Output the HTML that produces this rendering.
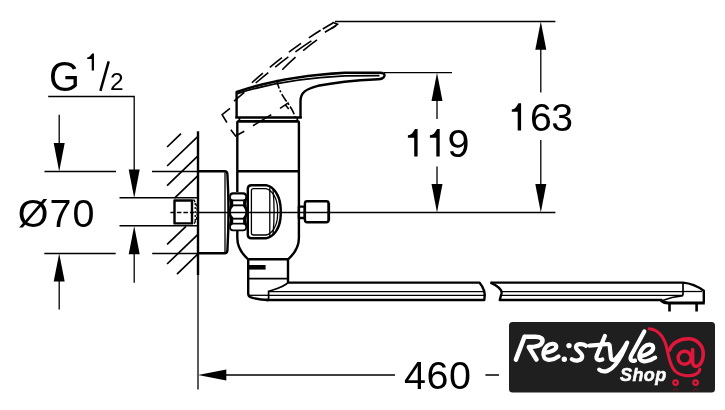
<!DOCTYPE html>
<html>
<head>
<meta charset="utf-8">
<title>Dimension drawing</title>
<style>
html,body{margin:0;padding:0;background:#fff;}
body{width:725px;height:410px;overflow:hidden;position:relative;font-family:"Liberation Sans",sans-serif;}
svg{position:absolute;left:0;top:0;display:block;will-change:transform;}
text{font-family:"Liberation Sans",sans-serif;fill:#000;}
.t{stroke:#000;stroke-width:1.3;fill:none;}
.m{stroke:#000;stroke-width:1.7;fill:none;}
.k{stroke:#000;stroke-width:2.4;fill:none;stroke-linejoin:round;stroke-linecap:butt;}
.kw{stroke:#000;stroke-width:2.4;fill:#fff;stroke-linejoin:round;}
.d{stroke:#000;stroke-width:1.6;fill:none;}
.a{fill:#000;stroke:none;}
</style>
</head>
<body>
<svg width="725" height="410" viewBox="0 0 725 410">
<rect x="0" y="0" width="725" height="410" fill="#fff"/>

<!-- ===== dimension text ===== -->
<g id="dimtext">
<text transform="translate(48.9,90.8) scale(0.92,1)" font-size="43.2">G</text>
<path class="a" d="M94.00,53.60V70.50H91.70V58.92H87.20V57.45C90.06,57.15 90.50,55.46 92.21,53.60Z"/>
<line x1="100.4" y1="90.8" x2="108.7" y2="61.4" stroke="#000" stroke-width="2.5"/>
<text x="110" y="90" font-size="24.5">2</text>
<text x="17.8" y="226.5" font-size="39.5" letter-spacing="1">Ø70</text>
<path class="a" d="M417.60,129.00V156.50H414.20V137.66H407.90V135.27C411.97,134.97 413.00,132.03 414.95,129.00Z"/>
<path class="a" d="M439.70,129.00V156.50H436.30V137.66H429.90V135.27C434.02,134.97 435.10,132.03 437.05,129.00Z"/>
<text x="447.6" y="156.5" font-size="39.5">9</text>
<path class="a" d="M521.10,103.20V130.50H517.70V111.80H511.80V109.42C515.71,109.12 516.50,106.20 518.45,103.20Z"/>
<text x="530" y="131" font-size="39.2" letter-spacing="-0.6">63</text>
<text x="404" y="389" font-size="39.5" letter-spacing="0.5">460</text>
</g>

<!-- ===== thin dimension lines ===== -->
<g id="dims" class="t">
<path d="M48.200,96.500H134.200V171"/>
<path d="M59.2,114.7V144"/>
<path d="M44.5,171.5H116M152,171.5H198"/>
<path d="M119.500,197.700H197M119.500,225.800H197" stroke-width="1.4"/>
<path d="M44.3,253.5H115.7M152.2,253.5H198"/>
<path d="M134.2,253V282.8"/>
<path d="M59.2,280V309.6"/>
<path d="M335,21.5H555.4"/>
<path d="M384,72.7H452"/>
<path d="M437,100V119M437,166.5V185"/>
<path d="M540.8,49V92.5M540.8,140V185"/>
<path d="M198,274V389.500"/>
<path d="M225,375H395M485.4,375H499"/>
</g>
<g id="arrows" class="a">
<path d="M134.200,198L128.700,169.500H139.700Z"/>
<path d="M59.2,171.5L53.7,143H64.7Z"/>
<path d="M134.2,226L128.7,254.3H139.7Z"/>
<path d="M59.2,253.5L53.7,281.5H64.7Z"/>
<path d="M437,72.7L431.5,101H442.5Z"/>
<path d="M437,212.5L431.5,184H442.5Z"/>
<path d="M540.8,21.5L535.3,49.8H546.3Z"/>
<path d="M540.8,212.5L535.3,184H546.3Z"/>
<path d="M198,375L226.300,369.500V380.500Z"/>
</g>

<!-- ===== wall + hatching ===== -->
<g id="wall">
<g class="m">
<path d="M167.1,147L181,133.6"/>
<path d="M167.1,166L197.7,136.6"/>
<path d="M167.1,185.6L197.7,156.2"/>
<path d="M174.5,198.2L197.7,175.8"/>
<path d="M167.1,244.4L186,226.3"/>
<path d="M167.1,264L197.7,234.6"/>
<path d="M177,274.2L197.7,254.2"/>
</g>
<path d="M198,131.300V275" class="k"/>
</g>


<!-- ===== faucet ===== -->
<g id="faucet">
<!-- thread stub in wall -->
<path d="M193.500,199.500Q197.4,205 197.200,212Q197.4,219 193.500,224.500" class="t" stroke-dasharray="3 1.500" stroke-width="1.700"/>
<path d="M195.200,203V221" class="t" stroke-dasharray="2 2" stroke-width="1.2"/>
<rect x="174.5" y="200.5" width="17.5" height="22.9" class="kw" stroke-width="3" stroke-linejoin="miter"/>
<!-- rosette -->
<path d="M197.7,171.3H224.6Q227.2,171.3 227.4,174Q229.6,212 227.4,250.4Q227.2,253.2 224.6,253.2H197.7" class="k" stroke-width="2"/>
<path d="M225,172.5V252" class="t"/>
<!-- body -->
<path d="M237.300,192V122.800Q237.300,121.300 238.800,121.300H297.400Q298.900,121.300 298.900,122.800V238C298.900,246 295.300,253 288,259.300" class="k"/>
<path d="M237.300,230.500V238C237.300,246 241,253 248.200,259.300" class="k"/>
<path d="M237.300,171.300H298.900" class="k" stroke-width="2"/>
<path d="M238.500,121.400H297.700" class="k" stroke-width="2.700"/>
<path d="M239.400,118V121.400M297.300,118V121.400" class="m" stroke-width="1.800"/>
<!-- nut -->
<path d="M233,192.200H243.200Q247,192.200 247,196V199.500Q246.300,202.500 246.300,204.500Q247.300,208 247.300,212Q247.300,216 246.300,219.500Q246.300,221 247,224V227.500Q247,231.200 243.200,231.200H233Q229.200,231.200 229.200,227.500V224Q229.900,221 229.900,219.500Q228.900,216 228.900,212Q228.900,208 229.900,204.500Q229.900,202.500 229.200,199.500V196Q229.200,192.200 233,192.200Z" fill="#000"/>
<g fill="#fff" stroke="none">
<rect x="230.900" y="194.400" width="14.400" height="5" rx="2.500"/>
<rect x="233.200" y="201.200" width="9.900" height="3.200"/>
<path d="M233.400,206.200H242.900Q245.500,209 245.500,212Q245.500,215 242.900,217.800H233.400Q230.700,215 230.700,212Q230.700,209 233.400,206.200Z"/>
<rect x="233.200" y="219.600" width="9.900" height="3.200"/>
<rect x="230.900" y="224.500" width="14.400" height="5" rx="2.500"/>
</g>
<!-- cartridge -->
<path d="M251.500,185.200H266C274.500,187 279.300,196 280.400,205Q281.200,212 280.400,219C279.300,228 274.500,236.500 266,238.300H251.500Q247.800,238.300 247.800,234.800V188.700Q247.800,185.200 251.500,185.200Z" class="kw" stroke-width="2.500"/>
<path d="M253.500,188.600H266C272.500,190.500 276.500,198 277.300,205Q277.900,212 277.300,219C276.500,226 272.500,233.500 266,235H253.500Q251.400,235 251.400,233V190.600Q251.400,188.600 253.500,188.600Z" class="t" stroke-width="1"/>
<path d="M269.800,187.500V236" class="t"/>
<path d="M273,189.500Q275.200,212 273,234.500" class="t" stroke-width="1"/>
<!-- right connector -->
<rect x="298.9" y="206.6" width="5.8" height="11.4" class="kw" stroke-width="1.8"/>
<rect x="304.900" y="201.300" width="23.700" height="21" rx="2.200" class="kw" stroke-width="2.500"/><path d="M328.900,203V220.500" class="k" stroke-width="3"/>
<!-- lower body -->
<path d="M248.2,259.3H288" class="k" stroke-width="2.4"/>
<path d="M288,259.3V282.4" class="k"/>
<path d="M248.2,259.3V293.5Q248.2,296.5 251,297.3Q259,299.8 268.5,300" class="k"/>
<path d="M248.2,267.3H265.6" stroke="#000" stroke-width="4.6" fill="none"/>
<path d="M248.2,278.6H288" class="m"/>
<path d="M248.2,295.3H268.5" class="t"/>
<!-- spout -->
<path d="M287,282.6H479.4Q486.500,291 484.3,300H266" class="k"/>
<path d="M288,282.6C284,287 276,289 268.6,291.3V300" class="m"/>
<path d="M268.6,291.7H485M268.6,295.4H485.2" class="t" stroke-width="1.1"/>
<path d="M490.5,282.6H683" class="k"/>
<path d="M490.5,282.6Q502.500,288 501.5,293.500Q500.500,297 499.8,300H662" class="k" stroke-width="2"/>
<path d="M501.5,291.7H683M501,295.4H683" class="t" stroke-width="1.1"/>
<!-- spout end -->
<path d="M683,282.6Q694,283.5 703.8,290.8V302.5" class="k"/>
<path d="M683,282.6V295.6" class="m"/>
<path d="M683,291.5H702" class="t"/>
<path d="M683,295.6L672,297.500L662.5,300.5" class="m"/>
<path d="M661,300.5Q664,303 668,303H704.8" stroke="#000" stroke-width="3" fill="none"/>
<path d="M669.5,303V311.6M696.6,303V311.6" stroke="#000" stroke-width="2.6" fill="none"/>
<!-- handle -->
<path d="M236.6,118V92L238.4,91.400C262,83.300 300,75.300 345,72.700H380Q385.300,72.800 384.300,76.200Q383.200,79 378,79.200C356,80.300 335,82.300 318,85.800C306,88.800 300.500,92.500 300.500,101V118" class="k" stroke-width="2.7" stroke-linejoin="miter"/>
<path d="M237.500,93.600C262,85.600 300,78 345,75.900L379.500,75.600" class="m" stroke-width="1.400"/>
<path d="M235.400,117.500H301.800" class="k" stroke-width="3"/>
<!-- dashed tilted handle -->
<g class="d">
<path d="M333,23C316,32.5 290,49 251,83.5" stroke-dasharray="12 2.5 14 9.5 15 9 15.5 9 14.5 9"/>
<path d="M336,25.8C320,35 296,49 255.7,83" stroke-dasharray="13 16 19.3 8.9 16.6 8.700 16.6 9"/>
<path d="M317,39.9C305,48.5 293,59 282,70" stroke-dasharray="17.6 10 18.2 100"/>
<path d="M332.500,22.200L337.500,24.300L331.500,28.500"/>
<path d="M244.3,92.400L234,101.100"/>
<path d="M230,108.300L222.100,114.600L226.900,122.500"/>
<path d="M230.800,129.700L235.600,136L244.300,131.300"/>
<path d="M253,125.700L271.300,114.600M280,108.300L288.700,102.700M285.500,105.100L288.700,109"/>
<path d="M276.800,79.800C278,88 282,95 285.500,100C290,106 293.500,111 295.200,117.500" stroke-dasharray="9 2 2 2"/>
</g>
</g>

<g id="centerline" class="t"><path d="M198,212.500H555.400" stroke-width="1.500"/><path d="M170.400,212.500H197" stroke-dasharray="4.500 2"/></g>

<!-- ===== logo ===== -->
<g id="logo">
<rect x="509" y="322" width="206" height="70.4" rx="3.5" ry="3.5" fill="#1f1f1f"/>
<g id="restyle" fill="none" stroke="#fff" stroke-width="4.2" stroke-linecap="round" stroke-linejoin="round">
<path d="M524.5,336.8L515.9,359.6M524.5,336.8H535.5C541,336.8 543.4,339 542.2,342.2C541,345.6 535,347 528.8,347L536.5,359.5" stroke-width="4.5"/>
<path d="M546,352.6C551,352 557,349.5 556.2,346C555.5,343 550,343 547,346C543.5,349.5 542.3,354.5 544.3,357.6C546.8,361.2 553.5,360.2 558.6,356.4"/>
<path d="M569,345.600h0.01M564.300,359.200h0.01" stroke-width="5.4"/>
<path d="M586,345.8C583,343.6 577,343.4 576,346.6C575,350 582.6,352.6 582.2,356.8C581.8,361 575.5,361.4 571.8,359.2"/>
<path d="M604.9,336L596.8,355.5C595.6,359 597.5,361.2 602.3,359.5M589.500,345.6L608.6,344"/>
<path d="M609.6,345L610.8,357C611,360 613.6,361 615.6,359C619.5,355 624,348.5 627.2,342.6C624,351 620,359 615.5,364.5C611,370 604.5,374 599.2,369.6"/>
<path d="M644.3,331.4L631.2,355.5C629.6,359 631,362 635,360.6"/>
<path d="M641.8,355.8C646,355.2 653.6,351.6 653.2,347.6C652.8,344 647.5,343.6 644,347C640,351 638.3,356 640,359C642,362.6 649,361.8 655.2,357.6"/>
</g>
<text x="620" y="380.8" font-size="18" font-weight="bold" font-style="italic" style="fill:#fff;stroke:#fff;stroke-width:0.5px" letter-spacing="0.4">Shop</text>
<g fill="none" stroke="#e0163a" stroke-linecap="round">
<path d="M649.2,328.8C657,329.5 663,336 666,345C668.5,353 668.5,364 675,371C680,376 690,377 696.3,374C698.5,372.8 699.6,371 699.8,369.200" stroke-width="3.1"/>
<path d="M669.6,350C671.5,343.5 679,338.8 688.3,338.8C697,338.8 703.3,345.5 703.3,353.8C703.3,360 700.5,365.7 696.5,366.3C693.5,366.6 692.6,364 692.6,361V349.500" stroke-width="3.6"/>
<circle cx="684.6" cy="357.8" r="6.5" stroke-width="3.4"/>
<circle cx="675.600" cy="382.600" r="2.300" stroke-width="2.200"/>
<circle cx="695.600" cy="382.600" r="2.300" stroke-width="2.200"/>
</g>
<g fill="none" stroke="#5c1522" stroke-width="1.600">
<path d="M673.300,391Q675.600,387 677.900,391M693.300,391Q695.600,387 697.900,391"/>
</g>
</g>
</svg>
</body>
</html>
